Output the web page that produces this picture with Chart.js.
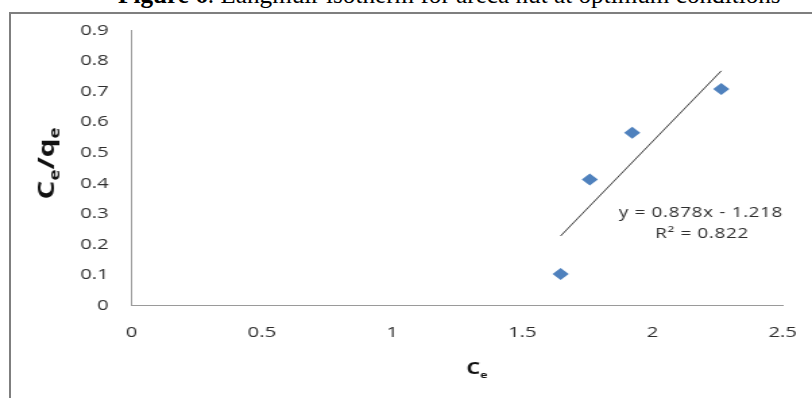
<!DOCTYPE html>
<html>
<head>
<meta charset="utf-8">
<script src="https://cdn.jsdelivr.net/npm/chart.js@4"></script>
<style>
  html, body { margin: 0; padding: 0; background: #fff; overflow: hidden; }
  body { width: 812px; height: 398px; position: relative; }
  #caption {
    position: absolute; left: 118px; top: -17px; white-space: nowrap;
    font-family: "Liberation Serif", "Times New Roman", serif; font-size: 25.2px; line-height: 24px; color: #000;
  }
  #frame {
    position: absolute; left: 9px; top: 12px; width: 900px; height: 500px;
    border-left: 2px solid #7f7f7f; border-top: 2px solid #7f7f7f;
  }
  /* the source picture is stretched sideways, so the chart is too */
  #wrap {
    position: absolute; left: 0; top: 0; width: 602px; height: 398px;
    transform: scaleX(1.34884); transform-origin: 0 0;
  }
</style>
</head>
<body>
<div id="caption"><b>Figure 6</b>. Langmuir isotherm for areca nut at optimum conditions</div>
<div id="frame"></div>
<div id="wrap"><canvas id="chart" width="602" height="398"></canvas></div>
<script>
// Langmuir isotherm data
const ceValues = [1.647, 1.759, 1.922, 2.264];
const ceQeValues = [0.104, 0.413, 0.566, 0.709];
// trendline ends as drawn
const trendCe = [1.647, 2.264];
const trendCeQe = [0.228, 0.768];
const xTickLabels = ['0', '0.5', '1', '1.5', '2', '2.5'];
const yTickLabels = ['0', '0.1', '0.2', '0.3', '0.4', '0.5', '0.6', '0.7', '0.8', '0.9'];
const fitEquation = 'y = 0.878x - 1.218';
const fitR2 = 'R\u00B2 = 0.822';

const textColor = '#2e2e2e';
const axisColor = '#9a9a9a';
const tickFont = { family: '"Open Sans", sans-serif', size: 15 };
// invisible tick marks give the label offset without padding the chart edge
const hiddenTicks = (len) => ({
  display: true, drawOnChartArea: false, drawTicks: true, tickLength: len,
  color: 'rgba(0,0,0,0)', tickColor: 'rgba(0,0,0,0)'
});

// draw a label with a subscript "e" after some letters
function drawSub(ctx, parts, x, y, big, small) {
  let cx = x;
  parts.forEach(p => {
    ctx.font = 'bold ' + (p.sub ? small : big) + 'px "Open Sans", sans-serif';
    ctx.fillText(p.t, cx, p.sub ? y + 4 : y);
    cx += ctx.measureText(p.t).width;
  });
  return cx - x;
}
function measureSub(ctx, parts, big, small) {
  let w = 0;
  parts.forEach(p => {
    ctx.font = 'bold ' + (p.sub ? small : big) + 'px "Open Sans", sans-serif';
    w += ctx.measureText(p.t).width;
  });
  return w;
}

const labelsPlugin = {
  id: 'labels',
  afterDraw(chart) {
    const ctx = chart.ctx;
    ctx.save();
    ctx.fillStyle = textColor;
    ctx.textBaseline = 'alphabetic';

    // trendline equation
    ctx.font = '14px "Open Sans", sans-serif';
    ctx.letterSpacing = '0.5px';
    ctx.textAlign = 'center';
    ctx.fillText(fitEquation, 519.7, 217);
    ctx.fillText(fitR2, 520.5, 238);
    ctx.letterSpacing = '0px';
    ctx.textAlign = 'left';

    // x axis title: Ce
    ctx.fillStyle = '#111';
    const xParts = [{ t: 'C' }, { t: 'e', sub: true }];
    const xw = measureSub(ctx, xParts, 16, 9);
    drawSub(ctx, xParts, 353.6 - xw / 2, 373.5, 16, 9);

    // y axis title: Ce/qe, rotated
    const yParts = [{ t: 'C' }, { t: 'e', sub: true }, { t: '/' }, { t: 'q' }, { t: 'e', sub: true }];
    const yw = measureSub(ctx, yParts, 16, 10);
    const k = 72 / yw;
    ctx.translate(40, 163.5);
    ctx.rotate(-Math.PI / 2);
    ctx.scale(k, 1);
    drawSub(ctx, yParts, -yw / 2, 0, 16, 10);
    ctx.restore();
  }
};

new Chart(document.getElementById('chart').getContext('2d'), {
  type: 'scatter',
  data: {
    datasets: [{
      label: 'Ce/qe',
      data: ceValues.map((x, i) => ({ x: x, y: ceQeValues[i] })),
      pointStyle: 'rectRot',
      pointRadius: 6,
      pointHoverRadius: 6,
      backgroundColor: '#4F81BD',
      borderColor: '#4F81BD',
      borderWidth: 0
    }, {
      type: 'line',
      label: 'Linear fit',
      data: trendCe.map((x, i) => ({ x: x, y: trendCeQe[i] })),
      borderColor: '#3a3a3a',
      borderWidth: 1,
      pointRadius: 0,
      fill: false
    }]
  },
  options: {
    responsive: false,
    animation: false,
    devicePixelRatio: 1,
    layout: { padding: { left: 0, right: 21.72, top: 30.5, bottom: 0 } },
    plugins: {
      legend: { display: false },
      tooltip: { enabled: false }
    },
    scales: {
      x: {
        type: 'linear',
        min: 0,
        max: 2.5,
        afterFit(scale) { scale.height = 398 - 305.7; },
        grid: hiddenTicks(18),
        border: { display: true, color: axisColor, width: 1 },
        ticks: {
          stepSize: 0.5,
          padding: 0,
          color: textColor,
          font: tickFont,
          maxRotation: 0,
          autoSkip: false,
          callback: (v, i) => xTickLabels[i]
        }
      },
      y: {
        min: 0,
        max: 0.9,
        afterFit(scale) { scale.width = 97.64; },
        grid: hiddenTicks(17),
        border: { display: true, color: axisColor, width: 1 },
        ticks: {
          stepSize: 0.1,
          padding: 0,
          color: textColor,
          font: tickFont,
          autoSkip: false,
          callback: (v, i) => yTickLabels[i]
        }
      }
    }
  },
  plugins: [labelsPlugin]
});
</script>
</body>
</html>
